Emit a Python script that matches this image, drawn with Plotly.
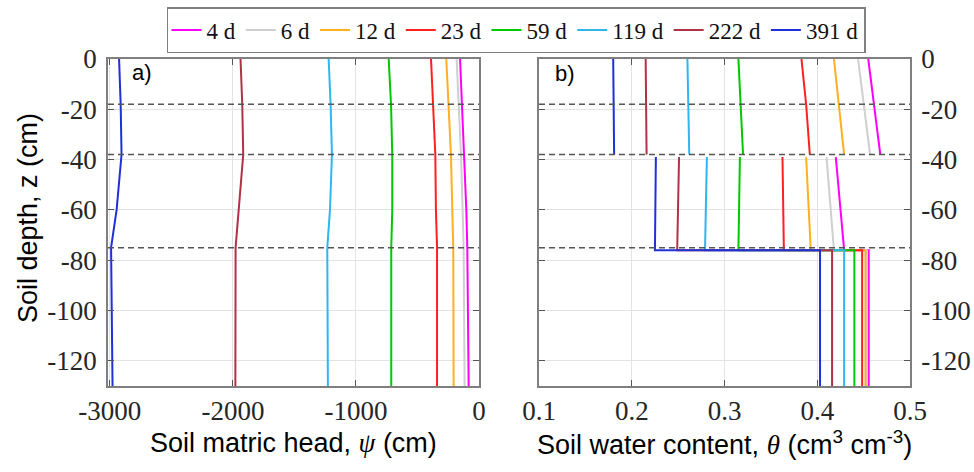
import plotly.graph_objects as go

# ---------------- data ----------------
series_names = ["4 d", "6 d", "12 d", "23 d", "59 d", "119 d", "222 d", "391 d"]
series_colors = ["#FF00FF", "#CFCFCF", "#FFB020", "#FF2020", "#00C800", "#2EB6F2", "#B03245", "#1F30D6"]

# panel a: soil matric head (cm) vs depth (cm)
depth_psi = [0, -18, -38, -60, -75, -130]
psi_4d = [-154, -138, -122, -103, -95, -84]
psi_6d = [-182, -166, -146, -133, -125, -117]
psi_12d = [-266, -247, -228, -217, -209, -206]
psi_23d = [-390, -371, -355, -350, -341, -341]
psi_59d = [-734, -715, -705, -705, -713, -713]
psi_119d = [-1222, -1206, -1195, -1211, -1233, -1228]
psi_222d = [-1938, -1924, -1916, -1951, -1978, -1980]
psi_391d = [-2925, -2912, -2905, -2945, -2990, -2978]

# panel b: soil water content vs depth (layer 1 separated from layer 2 by a gap)
depth_theta = [0, -18, -38, None, -39, -76, -76, -130]
theta_4d = [0.455, 0.461, 0.468, None, 0.420, 0.429, 0.4555, 0.4555]
theta_6d = [0.444, 0.450, 0.457, None, 0.410, 0.418, 0.4535, 0.4535]
theta_12d = [0.418, 0.423, 0.429, None, 0.388, 0.393, 0.452, 0.452]
theta_23d = [0.383, 0.388, 0.392, None, 0.3625, 0.364, 0.4484, 0.4484]
theta_59d = [0.315, 0.3177, 0.320, None, 0.3166, 0.315, 0.440, 0.440]
theta_119d = [0.260, 0.2613, 0.262, None, 0.281, 0.279, 0.429, 0.429]
theta_222d = [0.215, 0.2155, 0.216, None, 0.251, 0.249, 0.416, 0.416]
theta_391d = [0.180, 0.1808, 0.181, None, 0.226, 0.225, 0.403, 0.403]

layer_boundaries = [-18, -38, -75]

psi_ticks = [-3000, -2000, -1000, 0]
psi_ticktext = ["-3000", "-2000", "-1000", "0"]
theta_ticks = [0.1, 0.2, 0.3, 0.4, 0.5]
theta_ticktext = ["0.1", "0.2", "0.3", "0.4", "0.5"]
depth_ticks = [0, -20, -40, -60, -80, -100, -120]
depth_ticktext = ["0", "-20", "-40", "-60", "-80", "-100", "-120"]

psi_series = [psi_4d, psi_6d, psi_12d, psi_23d, psi_59d, psi_119d, psi_222d, psi_391d]
theta_series = [theta_4d, theta_6d, theta_12d, theta_23d, theta_59d, theta_119d, theta_222d, theta_391d]

# ---------------- figure ----------------
fig = go.Figure()
for name, col, psi in zip(series_names, series_colors, psi_series):
    fig.add_trace(go.Scatter(x=psi, y=depth_psi, mode="lines", name=name,
                             line=dict(color=col, width=2), xaxis="x", yaxis="y",
                             legendgroup=name))
for name, col, th in zip(series_names, series_colors, theta_series):
    fig.add_trace(go.Scatter(x=th, y=depth_theta, mode="lines", name=name,
                             line=dict(color=col, width=2), xaxis="x2", yaxis="y2",
                             legendgroup=name, showlegend=False, connectgaps=False))

serif = "Liberation Serif"
sans = "Liberation Sans"
tickfont = dict(family=serif, size=27, color="#262626")
grid = "#E3E3E3"
axcol = "#7F7F7F"

common = dict(showgrid=True, gridcolor=grid, gridwidth=1, showline=True, linecolor=axcol,
              linewidth=1.5, ticks="inside", ticklen=6, tickcolor="#555555", mirror="ticks",
              tickfont=tickfont, zeroline=False, automargin=False)

dom_a = [108 / 974, 479 / 974]
dom_b = [539 / 974, 910 / 974]
dom_y = [86 / 472, 413 / 472]

fig.update_layout(
    width=974, height=472,
    margin=dict(l=0, r=0, t=0, b=0, autoexpand=False),
    plot_bgcolor="white", paper_bgcolor="white",
    xaxis=dict(domain=dom_a, range=[-3015, 0], tickvals=psi_ticks, ticktext=psi_ticktext,
               anchor="y", **common),
    yaxis=dict(domain=dom_y, range=[-130, 0], tickvals=depth_ticks, ticktext=depth_ticktext,
               anchor="x", side="left", ticklabelstandoff=4, **common),
    xaxis2=dict(domain=dom_b, range=[0.1, 0.5], tickvals=theta_ticks, ticktext=theta_ticktext,
                anchor="y2", **common),
    yaxis2=dict(domain=dom_y, range=[-130, 0], tickvals=depth_ticks, ticktext=depth_ticktext,
                anchor="x2", side="right", ticklabelstandoff=4, **common),
    legend=dict(orientation="h", x=516 / 974, xanchor="center", y=1 - 7 / 472, yanchor="top",
                bordercolor="#808080", borderwidth=1.5, bgcolor="white",
                font=dict(family=serif, size=23, color="#111111"),
                itemwidth=30, tracegroupgap=0),
    showlegend=True,
)

for xr in ["x domain", "x2 domain"]:
    yr = "y" if xr == "x domain" else "y2"
    for zb in layer_boundaries:
        fig.add_shape(type="line", xref=xr, yref=yr, x0=0, x1=1, y0=zb, y1=zb,
                      line=dict(color="#555555", width=1.5, dash="6px,4px"))

ann = [
    dict(text="a)", x=dom_a[0] + 22 / 974, y=1 - 72 / 472, xanchor="left", yanchor="middle",
         font=dict(family=sans, size=22, color="black")),
    dict(text="b)", x=dom_b[0] + 14 / 974, y=1 - 73 / 472, xanchor="left", yanchor="middle",
         font=dict(family=sans, size=22, color="black")),
    dict(text="Soil depth, z (cm)", x=28 / 974, y=1 - 218 / 472, textangle=-90,
         xanchor="center", yanchor="middle", font=dict(family=sans, size=27, color="black")),
    dict(text="Soil matric head, <span style='font-family:Liberation Serif'><i>ψ</i></span> (cm)",
         x=(dom_a[0] + dom_a[1]) / 2, y=1 - 443 / 472, xanchor="center", yanchor="middle",
         font=dict(family=sans, size=27, color="black")),
    dict(text="Soil water content, <span style='font-family:Liberation Serif'><i>θ</i></span> (cm<sup>3</sup> cm<sup>-3</sup>)",
         x=(dom_b[0] + dom_b[1]) / 2, y=1 - 443 / 472, xanchor="center", yanchor="middle",
         font=dict(family=sans, size=27, color="black")),
]
for a in ann:
    fig.add_annotation(xref="paper", yref="paper", showarrow=False, **a)

fig.write_html("out.html")
